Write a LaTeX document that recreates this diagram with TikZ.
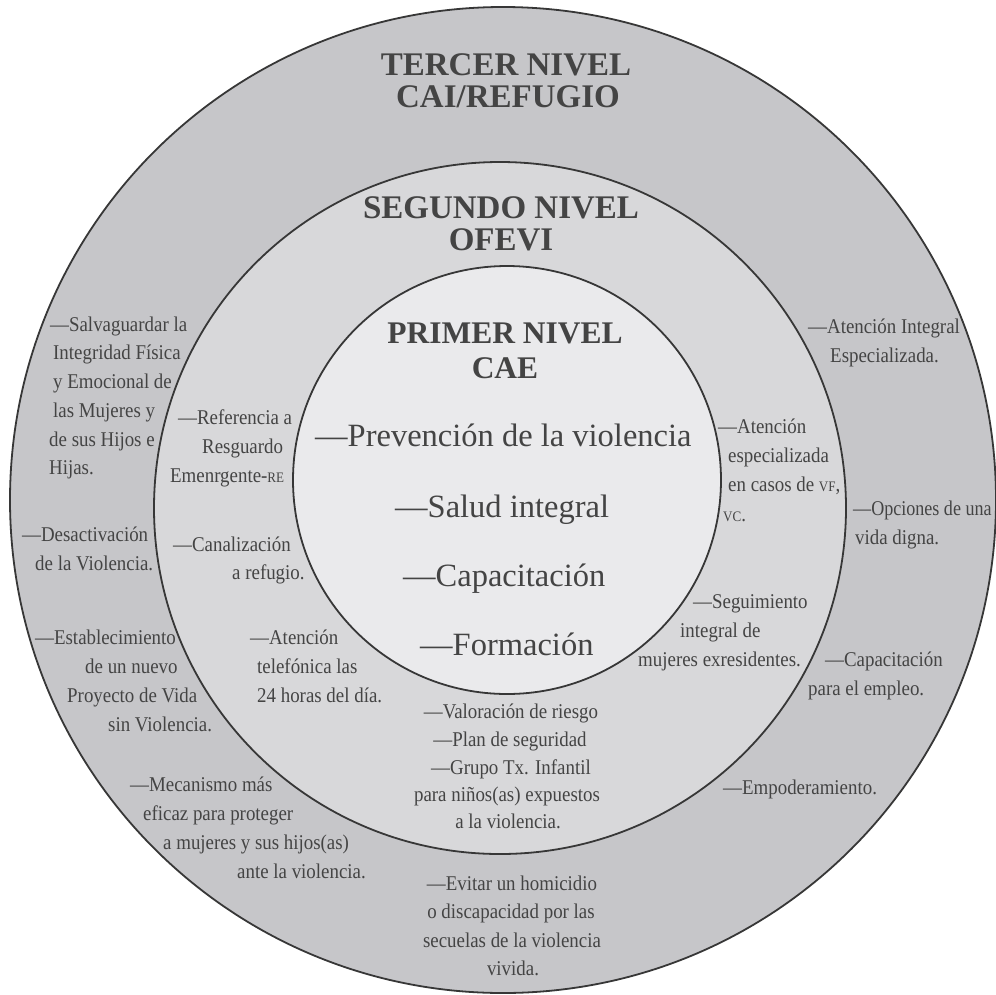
\documentclass[tikz,border=0pt]{standalone}
\usepackage{fontspec}
\setmainfont{Liberation Serif}
\newfontfamily\condserif[FakeStretch=0.9]{Liberation Serif}
\newfontfamily\tightserif[FakeStretch=0.86]{Liberation Serif}
\definecolor{ringA}{RGB}{198,198,201}
\definecolor{ringB}{RGB}{216,216,218}
\definecolor{ringC}{RGB}{234,234,236}
\definecolor{ink}{RGB}{68,68,68}
\definecolor{edge}{RGB}{55,55,55}
\newcommand{\smallcapsx}[1]{{\fontsize{14.5}{14.5}\selectfont #1}}
\begin{document}
\begin{tikzpicture}[x=1pt,y=-1pt,
  ring/.style={circle, draw=edge, line width=1.8pt, inner sep=0pt},
  head/.style={text=ink, font=\fontsize{33}{33}\selectfont\bfseries, inner sep=0pt, anchor=base},
  big/.style={text=ink, font=\fontsize{32.5}{33}\selectfont, inner sep=0pt, anchor=base west},
  sm/.style={text=ink, font=\condserif\fontsize{21}{21}\selectfont, inner sep=0pt, anchor=base west},
  smc/.style={sm, anchor=base},
]
\useasboundingbox (0,0) rectangle (996,994);
\fill[white] (0,0) rectangle (996,994);
% rings
\node[ring, fill=ringA, minimum size=986pt] (outer) at (503,500) {};
\node[ring, fill=ringB, minimum size=692pt] (middle) at (500,508) {};
\node[ring, fill=ringC, minimum size=428pt] (inner) at (507,480) {};
% headers
\node[head] (h1) at (506,75) {TERCER NIVEL};
\node[head] (h2) at (508,107) {CAI/REFUGIO};
\node[head] (h3) at (501,218) {SEGUNDO NIVEL};
\node[head] (h4) at (501,250) {OFEVI};
\node[head, font=\fontsize{31.5}{32}\selectfont\bfseries] (h5) at (505,343) {PRIMER NIVEL};
\node[head, font=\fontsize{31.5}{32}\selectfont\bfseries] (h6) at (505,378) {CAE};
% inner circle
\node[big] (c1) at (315,446) {—Prevención de la violencia};
\node[big] (c2) at (395,517) {—Salud integral};
\node[big] (c3) at (403,586) {—Capacitación};
\node[big] (c4) at (420,655) {—Formación};
% outer ring, left
\node[sm] (o1) at (50,331) {—Salvaguardar la};
\node[sm] (o2) at (53,359) {Integridad Física};
\node[sm] (o3) at (53,388) {y Emocional de};
\node[sm] (o4) at (53,417) {las Mujeres y};
\node[sm] (o5) at (49,446) {de sus Hijos e};
\node[sm] (o6) at (49,474) {Hijas.};
\node[sm] (o7) at (22,541) {—Desactivación};
\node[sm] (o8) at (35,570) {de la Violencia.};
\node[sm] (o9) at (35,644) {—Establecimiento};
\node[sm] (o10) at (85,673) {de un nuevo};
\node[sm] (o11) at (67,702) {Proyecto de Vida};
\node[sm] (o12) at (108,731) {sin Violencia.};
\node[sm] (o13) at (130,791) {—Mecanismo más};
\node[sm] (o14) at (143,820) {eficaz para proteger};
\node[sm] (o15) at (163,849) {a mujeres y sus hijos(as)};
\node[sm] (o16) at (237,878) {ante la violencia.};
% outer ring, right
\node[sm] (r1) at (808,333) {—Atención Integral};
\node[sm] (r2) at (830,362) {Especializada.};
\node[sm, font=\tightserif\fontsize{21}{21}\selectfont] (r3) at (853,515) {—Opciones de una};
\node[sm] (r4) at (855,544) {vida digna.};
\node[sm] (r5) at (825,666) {—Capacitación};
\node[sm] (r6) at (808,695) {para el empleo.};
\node[sm] (r7) at (723,794) {—Empoderamiento.};
% outer ring, bottom
\node[smc] (b1) at (512,890) {—Evitar un homicidio};
\node[smc] (b2) at (511,918) {o discapacidad por las};
\node[smc] (b3) at (512,947) {secuelas de la violencia};
\node[smc] (b4) at (513,975) {vivida.};
% middle ring, left
\node[sm] (m1) at (178,424) {—Referencia a};
\node[sm] (m2) at (202,453) {Resguardo};
\node[sm] (m3) at (170,482) {Emenrgente-\smallcapsx{RE}};
\node[sm] (m4) at (173,551) {—Canalización};
\node[sm] (m5) at (232,579) {a refugio.};
\node[sm] (m6) at (250,644) {—Atención};
\node[sm] (m7) at (257,673) {telefónica las};
\node[sm] (m8) at (257,702) {24 horas del día.};
% middle ring, right
\node[sm] (n1) at (718,433) {—Atención};
\node[sm] (n2) at (728,462) {especializada};
\node[sm] (n3) at (728,491) {en casos de \smallcapsx{VF},};
\node[sm] (n4) at (723,521) {\smallcapsx{VC}.};
\node[sm] (n5) at (693,608) {—Seguimiento};
\node[sm] (n6) at (680,637) {integral de};
\node[sm] (n7) at (638,666) {mujeres exresidentes.};
% middle ring, bottom
\node[smc] (p1) at (511,718) {—Valoración de riesgo};
\node[smc] (p2) at (510,746) {—Plan de seguridad};
\node[smc] (p3) at (511,774) {—Grupo Tx. Infantil};
\node[smc] (p4) at (507,801) {para niños(as) expuestos};
\node[smc] (p5) at (508,828) {a la violencia.};
\end{tikzpicture}
\end{document}
